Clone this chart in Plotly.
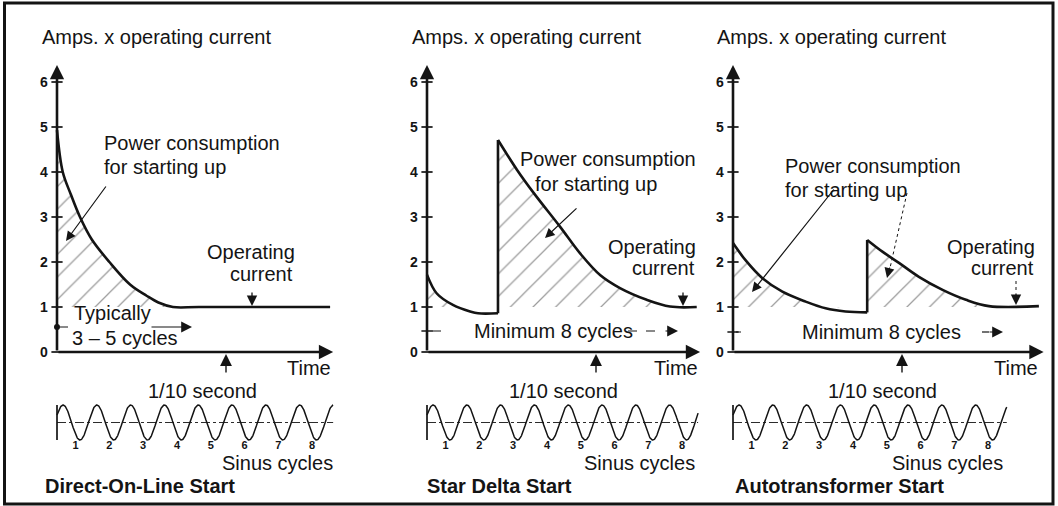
import numpy as np
import plotly.graph_objects as go

W, H = 1058, 506
INK = "#141414"
FONT = "Liberation Sans, Arial, Helvetica, sans-serif"

# ---------------------------------------------------------------------------
# Data: time in mains cycles (20 ms each), current in multiples of the
# operating current.
# ---------------------------------------------------------------------------
Y_TICKS = [0, 1, 2, 3, 4, 5, 6]
Y_TICK_LABELS = ["0", "1", "2", "3", "4", "5", "6"]
CYCLE_LABELS = ["1", "2", "3", "4", "5", "6", "7", "8"]

# Direct-on-line start
dol_t = [0.0, 0.17, 0.41, 0.68, 1.03, 1.55, 2.16, 2.65, 3.0, 3.43, 4.2, 8.08]
dol_i = [4.93, 4.0, 3.5, 3.0, 2.5, 2.0, 1.5, 1.25, 1.1, 1.0, 1.0, 1.0]

# Star delta start: star phase, then delta phase
sd_star_t = [0.0, 0.29, 0.78, 1.28, 1.51, 2.1]
sd_star_i = [1.72, 1.30, 1.04, 0.9, 0.86, 0.86]
sd_delta_t = [2.1, 2.67, 3.16, 3.94, 4.53, 5.12, 5.71, 6.5, 7.19, 7.98]
sd_delta_i = [4.71, 4.04, 3.53, 2.78, 2.19, 1.71, 1.42, 1.16, 1.01, 1.0]

# Autotransformer start: reduced voltage, then full voltage
at_red_t = [0.0, 0.37, 0.87, 1.46, 2.15, 2.74, 3.33, 3.97]
at_red_i = [2.42, 2.04, 1.64, 1.34, 1.12, 0.97, 0.9, 0.88]
at_full_t = [3.97, 4.42, 4.91, 5.5, 6.2, 6.89, 7.57, 9.05]
at_full_i = [2.49, 2.23, 1.98, 1.67, 1.38, 1.16, 1.02, 1.02]

TENTH_SECOND = 5.0        # 1/10 s = 5 cycles at 50 Hz
OPERATING = 1.0

# ---------------------------------------------------------------------------
# Layout geometry (pixels)
# ---------------------------------------------------------------------------
S = 33.8                  # pixels per cycle
Y0_PX, PX_PER_AMP = 352, 45
Y_RANGE = [-(H - Y0_PX) / PX_PER_AMP, Y0_PX / PX_PER_AMP]
SINE_MID, SINE_AMP = -(422.5 - Y0_PX) / PX_PER_AMP, 17.5 / PX_PER_AMP

panels = [
    dict(x0=57, xmax=8.4, axis_end=8.17, wave_end=8.17),
    dict(x0=427, xmax=8.3, axis_end=8.08, wave_end=8.02),
    dict(x0=733, xmax=9.4, axis_end=9.19, wave_end=8.1),
]


def px(x):
    return x / W


def py(y):
    return 1 - y / H


fig = go.Figure()
annotations = []
shapes = []


def text(x, y, s, anchor="left", size=20, bold=False, **kw):
    annotations.append(dict(
        x=px(x), y=py(y), xref="paper", yref="paper", text=s, showarrow=False,
        xanchor=anchor, yanchor="middle",
        font=dict(family=FONT, size=size, color=INK, weight=700 if bold else 400), **kw))


def arrow(x0, y0, x1, y1, width=1.2, head=2, size=1.6):
    annotations.append(dict(
        x=px(x1), y=py(y1), xref="paper", yref="paper",
        ax=x0 - x1, ay=y0 - y1, axref="pixel", ayref="pixel",
        text="", showarrow=True, arrowhead=head, arrowsize=size,
        arrowwidth=width, arrowcolor=INK))


def line(x0, y0, x1, y1, width=1.2, dash="solid"):
    shapes.append(dict(type="line", xref="paper", yref="paper",
                       x0=px(x0), y0=py(y0), x1=px(x1), y1=py(y1),
                       line=dict(color=INK, width=width, dash=dash)))


def hatch(k, t, i):
    """Hatched area between a current curve and the operating current."""
    xa, ya = f"x{k}", f"y{k}"
    fig.add_trace(go.Scatter(x=[t[0], t[-1]], y=[OPERATING, OPERATING],
                             mode="lines", line=dict(width=0),
                             xaxis=xa, yaxis=ya, hoverinfo="skip"))
    fig.add_trace(go.Scatter(
        x=t, y=np.maximum(np.array(i), OPERATING), mode="lines",
        line=dict(width=0, shape="spline", smoothing=1.0),
        fill="tonexty", fillcolor="rgba(255,255,255,0)",
        fillpattern=dict(shape="/", fgcolor="#3a3a3a", bgcolor="rgba(255,255,255,0)",
                         size=16, solidity=0.08),
        xaxis=xa, yaxis=ya, hoverinfo="skip"))


def curve(k, t, i, shape="spline"):
    fig.add_trace(go.Scatter(x=t, y=i, mode="lines",
                             line=dict(color=INK, width=2.6, shape=shape, smoothing=1.0),
                             xaxis=f"x{k}", yaxis=f"y{k}", hoverinfo="skip"))


# Hatched starting energy
hatch(1, dol_t[:10], dol_i[:10])
hatch(2, sd_star_t, sd_star_i)
hatch(2, sd_delta_t, sd_delta_i)
hatch(3, at_red_t, at_red_i)
hatch(3, at_full_t, at_full_i)

# Current curves
curve(1, dol_t, dol_i)
curve(2, sd_star_t, sd_star_i)
curve(2, [sd_star_t[-1], sd_delta_t[0]], [sd_star_i[-1], sd_delta_i[0]], "linear")
curve(2, sd_delta_t, sd_delta_i)
curve(3, at_red_t, at_red_i)
curve(3, [at_red_t[-1], at_full_t[0]], [at_red_i[-1], at_full_i[0]], "linear")
curve(3, at_full_t, at_full_i)

# Per-panel axes, sine reference and tick crosses
for k, p in enumerate(panels, start=1):
    xa, ya = f"x{k}", f"y{k}"
    # tick crosses on the current axis, with their labels
    fig.add_trace(go.Scatter(x=[0] * len(Y_TICKS), y=Y_TICKS, mode="markers",
                             marker=dict(symbol="line-ew", size=8,
                                         line=dict(width=1.7, color=INK)),
                             cliponaxis=False, xaxis=xa, yaxis=ya, hoverinfo="skip"))
    for v, lab in zip(Y_TICKS, Y_TICK_LABELS):
        text(p["x0"] - 8, Y0_PX - v * PX_PER_AMP, lab, "right", size=14, bold=True,
             borderpad=0)
    # sine cycles
    tw = np.linspace(0, p["wave_end"], 700)
    fig.add_trace(go.Scatter(x=tw, y=SINE_MID + SINE_AMP * np.sin(2 * np.pi * (tw + 0.07)),
                             mode="lines", line=dict(color=INK, width=1.5),
                             xaxis=xa, yaxis=ya, hoverinfo="skip"))
    fig.add_trace(go.Scatter(x=[0, p["wave_end"]], y=[SINE_MID, SINE_MID], mode="lines",
                             line=dict(color=INK, width=0.9, dash="dashdot"),
                             xaxis=xa, yaxis=ya, hoverinfo="skip"))
    fig.add_trace(go.Scatter(x=[0, 0], y=[SINE_MID - SINE_AMP, SINE_MID + SINE_AMP],
                             mode="lines", line=dict(color=INK, width=1.7),
                             xaxis=xa, yaxis=ya, hoverinfo="skip"))
    fig.add_trace(go.Scatter(x=[n - 0.45 for n in range(1, 9)],
                             y=[SINE_MID - 0.53] * 8, text=CYCLE_LABELS, mode="text",
                             textfont=dict(family=FONT, size=11, color=INK, weight=700),
                             xaxis=xa, yaxis=ya, hoverinfo="skip"))

    S_left = p["x0"] - 0.5 * S
    fig.update_layout({
        f"xaxis{k}": dict(domain=[px(S_left), px(p["x0"] + p["xmax"] * S)],
                          range=[-0.5, p["xmax"]], visible=False, anchor=ya),
        f"yaxis{k}": dict(domain=[0, 1], range=Y_RANGE, anchor=xa,
                          visible=False),
    })
    # axis arrows
    for (tx, ty) in [(0, 6.38), (p["axis_end"], 0)]:
        annotations.append(dict(x=tx, y=ty, xref=xa, yref=ya, ax=0, ay=0,
                                axref=xa, ayref=ya, text="", showarrow=True,
                                arrowhead=2, arrowsize=1.1, arrowwidth=2.6,
                                arrowcolor=INK))
    # 1/10 second marker
    xt = p["x0"] + TENTH_SECOND * S
    arrow(xt, 374, xt, 354, width=1.4, size=1.7)

# ---------------------------------------------------------------------------
# Text
# ---------------------------------------------------------------------------
for x in (40, 410, 715):
    text(x, 37, "Amps. x operating current")
for x in (333, 700, 1040):
    text(x, 368, "Time", "right")
for x in (202, 563, 882):
    text(x, 391, "1/10 second", "center")
for x in (335, 697, 1005):
    text(x, 463, "Sinus cycles", "right")
text(43, 486, "Direct-On-Line Start", bold=True)
text(425, 486, "Star Delta Start", bold=True)
text(733, 486, "Autotransformer Start", bold=True)

text(102, 143, "Power consumption")
text(102, 167, "for starting up")
text(518, 159, "Power consumption")
text(533, 184, "for starting up")
text(783, 166, "Power consumption")
text(783, 190, "for starting up")

text(297, 252, "Operating", "right")
text(295, 274, "current", "right")
text(698, 247, "Operating", "right")
text(697, 268, "current", "right")
text(1037, 247, "Operating", "right")
text(1036, 268, "current", "right")

text(72, 313, "Typically")
text(70, 338, "3 – 5 cycles")
text(472, 331, "Minimum 8 cycles")
text(800, 332, "Minimum 8 cycles")

# Pointers
arrow(107, 185, 66, 241)
arrow(578, 207, 545, 238)
arrow(835, 188, 752, 292)
line(907, 193, 890, 268, width=1.0, dash="dot")
arrow(890, 266, 887, 278, width=1.0, size=2.0)

arrow(252, 291, 252, 306, width=1.3, size=1.6)
arrow(683, 291, 683, 306, width=1.3, size=1.6)
line(1016, 281, 1016, 292, width=1.0, dash="dot")
arrow(1016, 292, 1016, 305, width=1.3, size=1.6)

# Duration pointers
fig.add_trace(go.Scatter(x=[0], y=[(Y0_PX - 327) / PX_PER_AMP], mode="markers",
                         marker=dict(size=6, color=INK), cliponaxis=False,
                         xaxis="x1", yaxis="y1", hoverinfo="skip"))
line(60, 327, 68, 327, width=1.0, dash="dash")
arrow(150, 327, 192, 327, width=1.2, size=1.8)
for k, (x0, yy) in enumerate([(427, 331), (733, 332)], start=2):
    fig.add_trace(go.Scatter(x=[0], y=[(Y0_PX - yy) / PX_PER_AMP], mode="markers",
                             marker=dict(symbol="line-ew", size=8,
                                         line=dict(width=1.5, color=INK)),
                             cliponaxis=False, xaxis=f"x{k}", yaxis=f"y{k}",
                             hoverinfo="skip"))
line(432, 331, 441, 331, width=1.0, dash="dashdot")
line(628, 331, 664, 331, width=1.0, dash="dash")
arrow(664, 331, 678, 331, width=1.2, size=1.8)
line(736, 332, 741, 332, width=1.0)
line(982, 332, 989, 332, width=1.2)
arrow(988, 332, 1003, 332, width=1.2, size=1.8)

# Frame
shapes.append(dict(type="rect", xref="paper", yref="paper",
                   x0=px(4.5), y0=py(504), x1=px(1053), y1=py(3),
                   line=dict(color=INK, width=3), fillcolor="rgba(0,0,0,0)"))

fig.update_layout(
    width=W, height=H, margin=dict(l=0, r=0, t=0, b=0),
    paper_bgcolor="white", plot_bgcolor="white", showlegend=False,
    annotations=annotations, shapes=shapes,
)

fig.write_html("out.html")
